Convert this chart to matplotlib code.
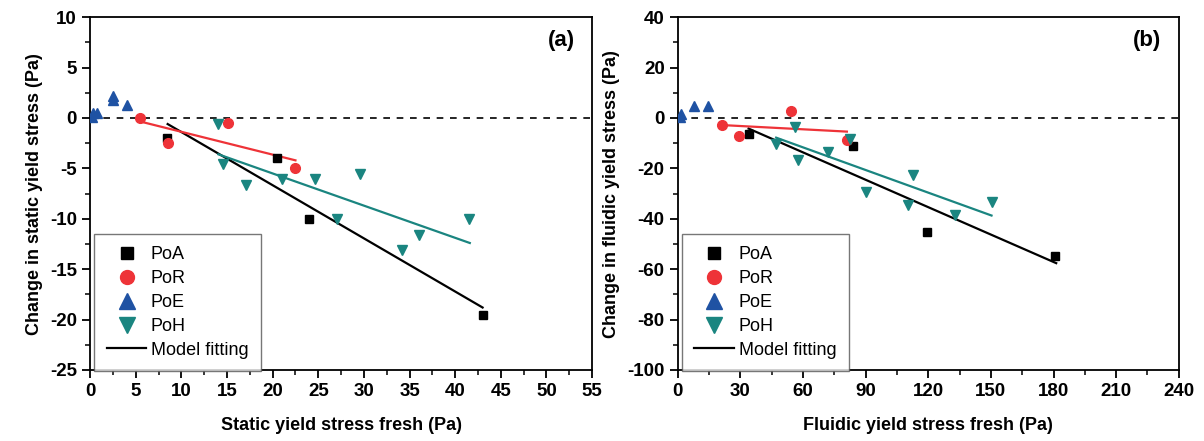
import matplotlib
matplotlib.use("Agg")
import matplotlib.pyplot as plt
from matplotlib.ticker import MultipleLocator
from matplotlib.lines import Line2D

plt.rcParams["font.family"] = ["Liberation Sans", "DejaVu Sans"]
plt.rcParams["axes.unicode_minus"] = False

BLACK, RED, BLUE, TEAL = "#000000", "#ee3338", "#1f52a3", "#1a8580"

# ---- panel (a): static yield stress ----
a_poa_x = [8.4, 20.5, 24.0, 43.0]
a_poa_y = [-2.0, -4.0, -10.0, -19.5]
a_por_x = [5.5, 8.5, 15.1, 22.5]
a_por_y = [0.0, -2.5, -0.5, -5.0]
a_poe_x = [0.2, 0.35, 0.8, 2.55, 2.55, 4.1]
a_poe_y = [0.1, 0.5, 0.5, 1.75, 2.2, 1.3]
a_poh_x = [14.0, 14.6, 17.05, 21.0, 24.6, 27.0, 29.55, 34.15, 36.05, 41.5]
a_poh_y = [-0.6, -4.6, -6.6, -6.1, -6.1, -10.0, -5.6, -13.1, -11.6, -10.0]
a_fit_poa = ([8.5, 43.0], [-0.6, -18.8])
a_fit_por = ([5.5, 22.5], [-0.35, -4.2])
a_fit_poh = ([14.05, 41.6], [-3.6, -12.4])

# ---- panel (b): fluidic yield stress ----
b_poa_x = [33.9, 83.9, 119.3, 180.7]
b_poa_y = [-6.5, -11.3, -45.3, -54.7]
b_por_x = [21.1, 29.4, 54.2, 81.0]
b_por_y = [-2.8, -7.2, 2.8, -8.7]
b_poe_x = [1.0, 1.5, 7.9, 14.5]
b_poe_y = [0.3, 1.7, 4.7, 4.7]
b_poh_x = [46.8, 56.2, 57.8, 71.9, 82.6, 90.2, 110.2, 112.6, 132.8, 150.3]
b_poh_y = [-10.2, -3.6, -16.7, -13.3, -8.4, -29.4, -34.7, -22.8, -38.3, -33.2]
b_fit_poa = ([33.9, 181.3], [-4.2, -57.6])
b_fit_por = ([21.1, 81.0], [-2.8, -5.4])
b_fit_poh = ([47.1, 150.3], [-7.8, -38.7])


def panel(ax, poa, por, poe, poh, fits, xlim, xmaj, ylim, ymaj, xlabel, ylabel, tag):
    ax.axhline(0, color="black", ls=(0, (4, 4)), lw=1.2, zorder=1)
    for (fx, fy), c in zip(fits, [BLACK, RED, TEAL]):
        ax.plot(fx, fy, color=c, lw=1.6, zorder=2)
    ax.plot(*poa, "s", color=BLACK, ms=6, ls="none", zorder=3)
    ax.plot(*por, "o", color=RED, ms=7, ls="none", zorder=3)
    ax.plot(*poe, "^", color=BLUE, ms=7.5, ls="none", zorder=3)
    ax.plot(*poh, "v", color=TEAL, ms=7.5, ls="none", zorder=3)

    ax.set_xlim(*xlim); ax.set_ylim(*ylim)
    ax.xaxis.set_major_locator(MultipleLocator(xmaj))
    ax.xaxis.set_minor_locator(MultipleLocator(xmaj / 2))
    ax.yaxis.set_major_locator(MultipleLocator(ymaj))
    ax.yaxis.set_minor_locator(MultipleLocator(ymaj / 2))
    ax.tick_params(which="major", length=6, width=1.3, labelsize=13.5)
    ax.tick_params(which="minor", length=3.5, width=1.1)
    for lab in ax.get_xticklabels() + ax.get_yticklabels():
        lab.set_fontweight("bold")
    for s in ax.spines.values():
        s.set_linewidth(1.3)
    ax.set_xlabel(xlabel, fontsize=13, fontweight="bold", labelpad=12)
    ax.set_ylabel(ylabel, fontsize=13, fontweight="bold", labelpad=5)
    ax.text(0.965, 0.935, tag, transform=ax.transAxes, ha="right", va="center",
            fontsize=16, fontweight="bold")

    handles = [
        Line2D([], [], marker="s", color=BLACK, ls="none", ms=9),
        Line2D([], [], marker="o", color=RED, ls="none", ms=10),
        Line2D([], [], marker="^", color=BLUE, ls="none", ms=11),
        Line2D([], [], marker="v", color=TEAL, ls="none", ms=11),
        Line2D([], [], color=BLACK, lw=1.6),
    ]
    leg = ax.legend(handles, ["PoA", "PoR", "PoE", "PoH", "Model fitting"],
                    loc="lower left", bbox_to_anchor=(0.008, -0.004), fontsize=13,
                    frameon=True, fancybox=False, edgecolor="#555555",
                    handlelength=2.2, handletextpad=0.25, labelspacing=0.38,
                    borderpad=0.7, borderaxespad=0.0)
    leg.get_frame().set_linewidth(1.0)


fig = plt.figure(figsize=(12.04, 4.41), dpi=100)
ax1 = fig.add_axes([0.0748, 0.161, 0.417, 0.8])
ax2 = fig.add_axes([0.563, 0.161, 0.416, 0.8])

panel(ax1, (a_poa_x, a_poa_y), (a_por_x, a_por_y), (a_poe_x, a_poe_y),
      (a_poh_x, a_poh_y), [a_fit_poa, a_fit_por, a_fit_poh],
      (0, 55), 5, (-25, 10), 5,
      "Static yield stress fresh (Pa)", "Change in static yield stress (Pa)", "(a)")
panel(ax2, (b_poa_x, b_poa_y), (b_por_x, b_por_y), (b_poe_x, b_poe_y),
      (b_poh_x, b_poh_y), [b_fit_poa, b_fit_por, b_fit_poh],
      (0, 240), 30, (-100, 40), 20,
      "Fluidic yield stress fresh (Pa)", "Change in fluidic yield stress (Pa)", "(b)")

fig.savefig("out.png", dpi=100)
